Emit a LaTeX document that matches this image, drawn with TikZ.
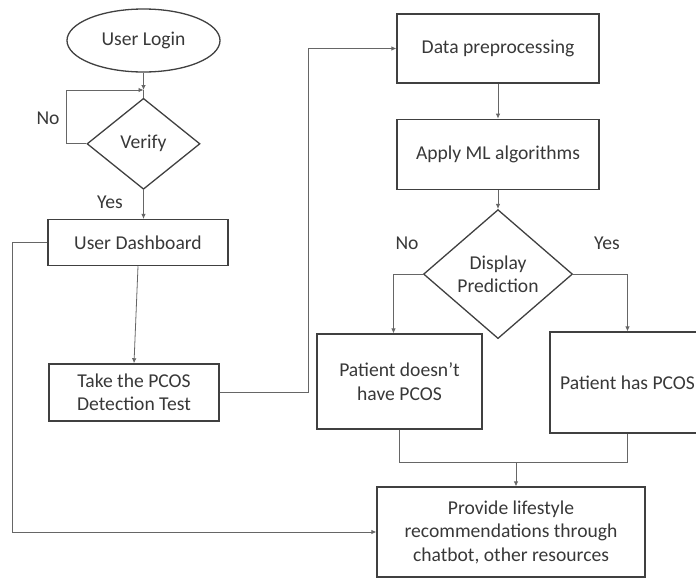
\documentclass[tikz,border=0pt]{standalone}
\usepackage{fontspec}
\setmainfont{Carlito}
\usetikzlibrary{arrows.meta,positioning,shapes.geometric}

\begin{document}
\begin{tikzpicture}[
  x=1pt, y=1pt,
  font=\fontsize{19.6}{23.5}\selectfont,
  text=black!78,
  box/.style={draw=black!75,line width=1.3pt,align=center,inner sep=0pt},
  oval/.style={box,ellipse},
  decide/.style={box,diamond},
  line/.style={draw=black!60,line width=0.8pt},
  arr/.style={line,-{Latex[length=5pt,width=4.5pt]}}
]
\useasboundingbox (0,0) rectangle (696,-579);
\clip (0,0) rectangle (696,-579);

% left column
\node[oval,minimum width=153pt,minimum height=63pt] (login) at (143.5,-40.5) {User Login};
\node[decide,minimum width=113pt,minimum height=91pt,below=25pt of login] (verify) {Verify};
\node[box,minimum width=180pt,minimum height=46pt,below=29pt of verify,xshift=-5.5pt] (dash) {User Dashboard};
\node[box,minimum width=170pt,minimum height=57pt,below=97pt of dash,xshift=-4pt] (test) {Take the PCOS\\Detection Test};
\coordinate (vj) at (143.5,-90);
\node (no1)  at (48,-118)  {No};
\node (yes1) at (110,-202) {Yes};

% right column
\node[box,minimum width=202pt,minimum height=69pt] (prep) at (498,-48.5) {Data preprocessing};
\node[box,minimum width=202pt,minimum height=70pt,below=35pt of prep] (ml) {Apply ML algorithms};
\node[decide,minimum width=149pt,minimum height=129pt,below=19pt of ml] (pred) {Display\\Prediction};
\node (no2)  at (407,-243) {No};
\node (yes2) at (607,-243) {Yes};
\node[box,minimum width=165pt,minimum height=95pt] (nohave) at (399.5,-381.5) {Patient doesn’t\\have PCOS};
\node[box,minimum width=155pt,minimum height=101pt] (has) at (627.5,-382.5) {Patient has PCOS};
\node[box,minimum width=268pt,minimum height=90pt] (provide) at (511,-532) {Provide lifestyle\\recommendations through\\chatbot, other resources};
\coordinate (jn) at (516,-462);

\draw[arr] (login) -- (vj);
\draw[line] (vj) -- (verify);
\draw[arr] (verify.west) -- ++(-20,0) |- (vj);
\draw[arr] (verify.south) -- (verify.south |- dash.north);
\draw[arr] (dash.south) -- (test.north);
\draw[arr] (test.east) -- ++(89,0) |- (prep.west);
\draw[arr] (dash.west) -- ++(-35,0) |- (provide.west);
\draw[arr] (prep) -- (ml);
\draw[arr] (ml) -- (pred);
\draw[arr] (pred.west) -| ([xshift=-6pt]nohave.north);
\draw[arr] (pred.east) -| (has.north);
\draw[line] (nohave.south) -- (nohave.south |- jn) -- (has.south |- jn) -- (has.south);
\draw[arr] (jn) -- (jn |- provide.north);
\end{tikzpicture}
\end{document}
